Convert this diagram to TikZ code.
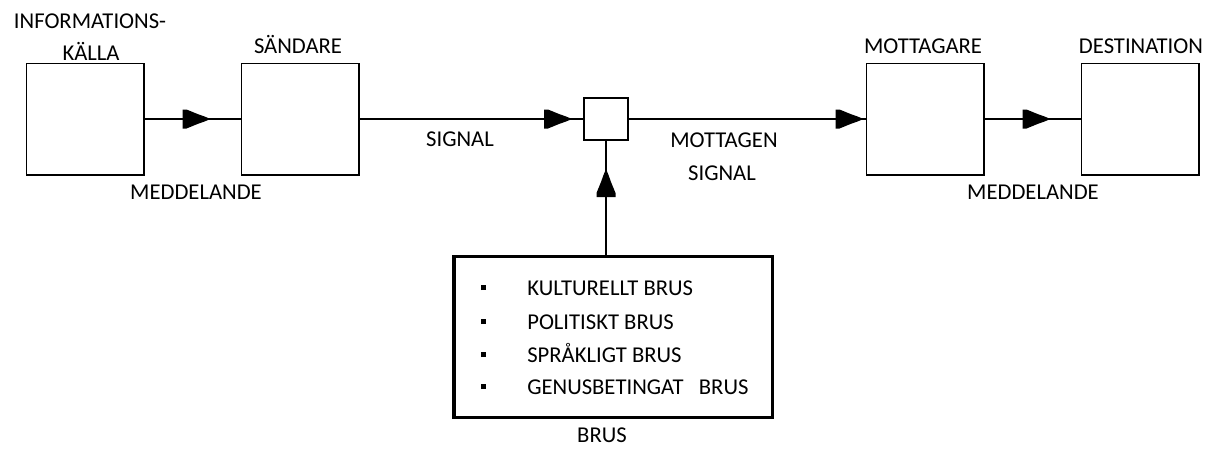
\documentclass[tikz,border=0pt]{standalone}
\usepackage{fontspec}
\setmainfont{Carlito}
\usepackage{tikz}
\usetikzlibrary{positioning,arrows.meta,decorations.markings,calc}

\begin{document}
\begin{tikzpicture}[
    x=0.025cm, y=-0.025cm,
    font=\fontsize{16.1}{19}\selectfont,
    block/.style={draw, line width=1.4pt, minimum width=2.925cm, minimum height=2.775cm, inner sep=0pt},
    mixer/.style={draw, line width=1.4pt, minimum width=1.1cm, minimum height=1.05cm, inner sep=0pt},
    noise/.style={draw, line width=2.2pt, minimum width=7.95cm, minimum height=4.025cm, inner sep=0pt},
    lbl/.style={anchor=base, inner sep=0pt},
    item/.style={anchor=base west, inner sep=0pt},
    conn/.style={line width=1.1pt},
    midtip/.style={postaction={decorate}, decoration={markings,
        mark=at position #1 with {\fill (0,0) -- (-6,-2.5) -- (-13,-5) -- (-24,-9.5) -- (-28,-9.5)
            -- (-28,9.5) -- (-24,9.5) -- (-13,5) -- (-6,2.5) -- cycle;}}}
]
\useasboundingbox (0,0) rectangle (1211,448);

% main chain
\node[block] (kalla) at (85,119) {};
\node[block] (sandare) at (300,119) {};
\node[mixer] (mix) at (606,119) {};
\node[block] (mottagare) at (925,119) {};
\node[block] (dest) at (1140,119) {};

\draw[conn, midtip=1.65cm] (kalla) -- (sandare);
\draw[conn, midtip=-0.275cm] (sandare) -- (mix);
\draw[conn, midtip=-0.05cm] (mix) -- (mottagare);
\draw[conn, midtip=1.65cm] (mottagare) -- (dest);

% noise source
\node[noise] (brus) at (613,337) {};
\draw[conn, midtip=-0.7cm] (brus.north -| mix.south) -- (mix.south);

% labels
\node[lbl] (infoa) at (90,28) {INFORMATIONS-};
\node[lbl] (infob) at (91,60) {KÄLLA};
\node[lbl] (sandlbl) at (298,53) {SÄNDARE};
\node[lbl] (medda) at (196,199) {MEDDELANDE};
\node[lbl] (signa) at (460,146) {SIGNAL};
\node[lbl] (motta) at (724,147) {MOTTAGEN};
\node[lbl] (mottb) at (722,180) {SIGNAL};
\node[lbl] (mottlbl) at (923,53) {MOTTAGARE};
\node[lbl] (destlbl) at (1141,53) {DESTINATION};
\node[lbl] (meddb) at (1033,199) {MEDDELANDE};
\node[lbl] (bruslbl) at (602,442) {BRUS};

% noise list
\node[item] (itema) at (481,295) {\rule[0.12cm]{0.12cm}{0.12cm}\hspace{1.03cm}KULTURELLT BRUS};
\node[item] (itemb) at (481,329) {\rule[0.12cm]{0.12cm}{0.12cm}\hspace{1.03cm}POLITISKT BRUS};
\node[item] (itemc) at (481,362) {\rule[0.12cm]{0.12cm}{0.12cm}\hspace{1.03cm}SPRÅKLIGT BRUS};
\node[item] (itemd) at (481,394) {\rule[0.12cm]{0.12cm}{0.12cm}\hspace{1.03cm}GENUSBETINGAT\ \ \ BRUS};
\end{tikzpicture}
\end{document}
